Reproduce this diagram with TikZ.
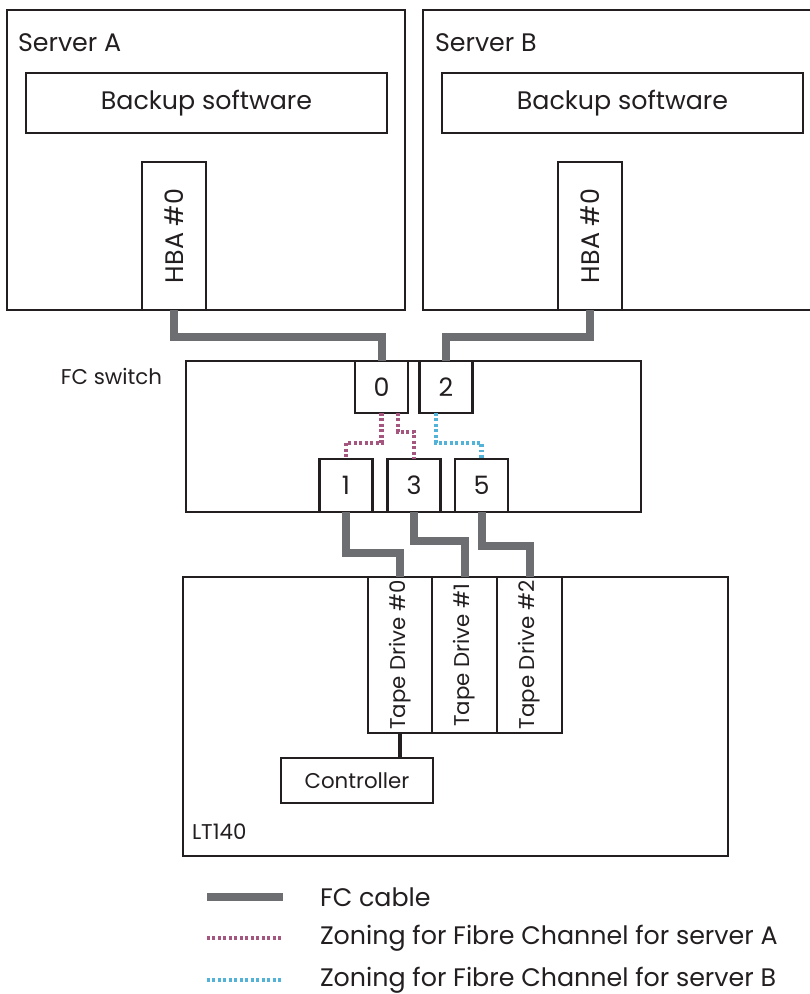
\documentclass[tikz,border=0pt]{standalone}
\usepackage{fontspec}
\setmainfont{Poppins}
\definecolor{boxc}{HTML}{231F20}
\definecolor{cablec}{HTML}{6D6E71}
\definecolor{zonea}{HTML}{A5567F}
\definecolor{zoneb}{HTML}{52B2D8}
\newcommand{\fsz}[1]{\fontsize{#1}{#1}\selectfont}
\begin{document}
\begin{tikzpicture}[x=0.75pt,y=-0.75pt,
  box/.style={draw=boxc, line width=1.9pt, inner sep=0pt, outer sep=0pt, fill=white},
  sz/.style 2 args={minimum width=#1*0.75pt, minimum height=#2*0.75pt},
  cable/.style={draw=cablec, line width=6pt},
  zoneA/.style={draw=zonea, line width=3.7pt, dash pattern=on 2.2pt off 1.9pt},
  zoneB/.style={draw=zoneb, line width=3.7pt, dash pattern=on 2.2pt off 1.9pt},
  big/.style={font=\fsz{19pt}, text=boxc},
  mid/.style={font=\fsz{16pt}, text=boxc},
  txt/.style={inner sep=0pt, outer sep=0pt}]
\useasboundingbox (0,0) rectangle (809,994);

% servers
\node[box, sz={398}{300}] (srvA) at (206,160) {};
\node[box, sz={398}{300}] (srvB) at (622,160) {};
\node[txt, big, anchor=west] (srvAl) at (18,43) {Server A};
\node[txt, big, anchor=west] (srvBl) at (435,43) {Server B};
\node[box, big, sz={361}{60}] (bkA) at (206.5,103) {Backup software};
\node[box, big, sz={361}{60}] (bkB) at (622.5,103) {Backup software};
\node[box, sz={64}{148}, label={[big, rotate=90]center:HBA \#0}] (hbaA) at (174,236) {};
\node[box, sz={64}{148}, label={[big, rotate=90]center:HBA \#0}] (hbaB) at (590,236) {};

% FC switch
\node[box, sz={455}{151}] (sw) at (413.5,436.5) {};
\node[txt, mid, anchor=east] (swl) at (162,376) {FC switch};
\node[box, big, sz={53}{52}] (p0) at (381.5,387) {0};
\node[box, big, sz={53}{52}] (p2) at (446,387) {2};
\node[box, big, sz={53}{53}] (p1) at (346,485.5) {1};
\node[box, big, sz={53}{53}] (p3) at (414,485.5) {3};
\node[box, big, sz={53}{53}] (p5) at (481.5,485.5) {5};

% LT140
\node[box, sz={545}{279}] (lt) at (455.5,716.5) {};
\node[txt, mid, anchor=west] (ltl) at (192,832) {LT140};
\node[box, sz={64}{156}, label={[mid, rotate=90]center:Tape Drive \#0}] (td0) at (400,655) {};
\node[box, sz={65}{156}, label={[mid, rotate=90]center:Tape Drive \#1}] (td1) at (464.5,655) {};
\node[box, sz={65}{156}, label={[mid, rotate=90]center:Tape Drive \#2}] (td2) at (529.5,655) {};
\node[box, mid, sz={152}{45}] (ctrl) at (357,780.5) {Controller};

% FC cables
\draw[cable] (hbaA.south) -- ++(0,27) -| (p0.north);
\draw[cable] (hbaB.south) -- ++(0,27) -| (p2.north);
\draw[cable] (p1.south) -- ++(0,41) -| (td0.north);
\draw[cable] (p3.south) -- ++(0,29) -| (td1.north);
\draw[cable] (p5.south) -- ++(0,34) -| (td2.north);
\draw[draw=boxc, line width=3pt] (td0.south) -- (td0.south |- ctrl.north);

% zoning
\draw[zoneA] (p0.south) -- ++(0,30) -| (p1.north);
\draw[zoneA] ([xshift=16.5*0.75pt]p0.south) -- ++(0,19) -| (p3.north);
\draw[zoneB] ([xshift=-10*0.75pt]p2.south) -- ++(0,30) -| (p5.north);

% legend
\coordinate (l1a) at (207,897); \coordinate (l1b) at (283,897);
\coordinate (l2a) at (207,938); \coordinate (l2b) at (283,938);
\coordinate (l3a) at (207,980); \coordinate (l3b) at (283,980);
\draw[cable] (l1a) -- (l1b);
\draw[zoneA] (l2a) -- (l2b);
\draw[zoneB] (l3a) -- (l3b);
\node[txt, big, anchor=west] (lt1) at (320,897) {FC cable};
\node[txt, big, anchor=west] (lt2) at (320,938) {Zoning for Fibre Channel for server A};
\node[txt, big, anchor=west] (lt3) at (320,980) {Zoning for Fibre Channel for server B};
\end{tikzpicture}
\end{document}
